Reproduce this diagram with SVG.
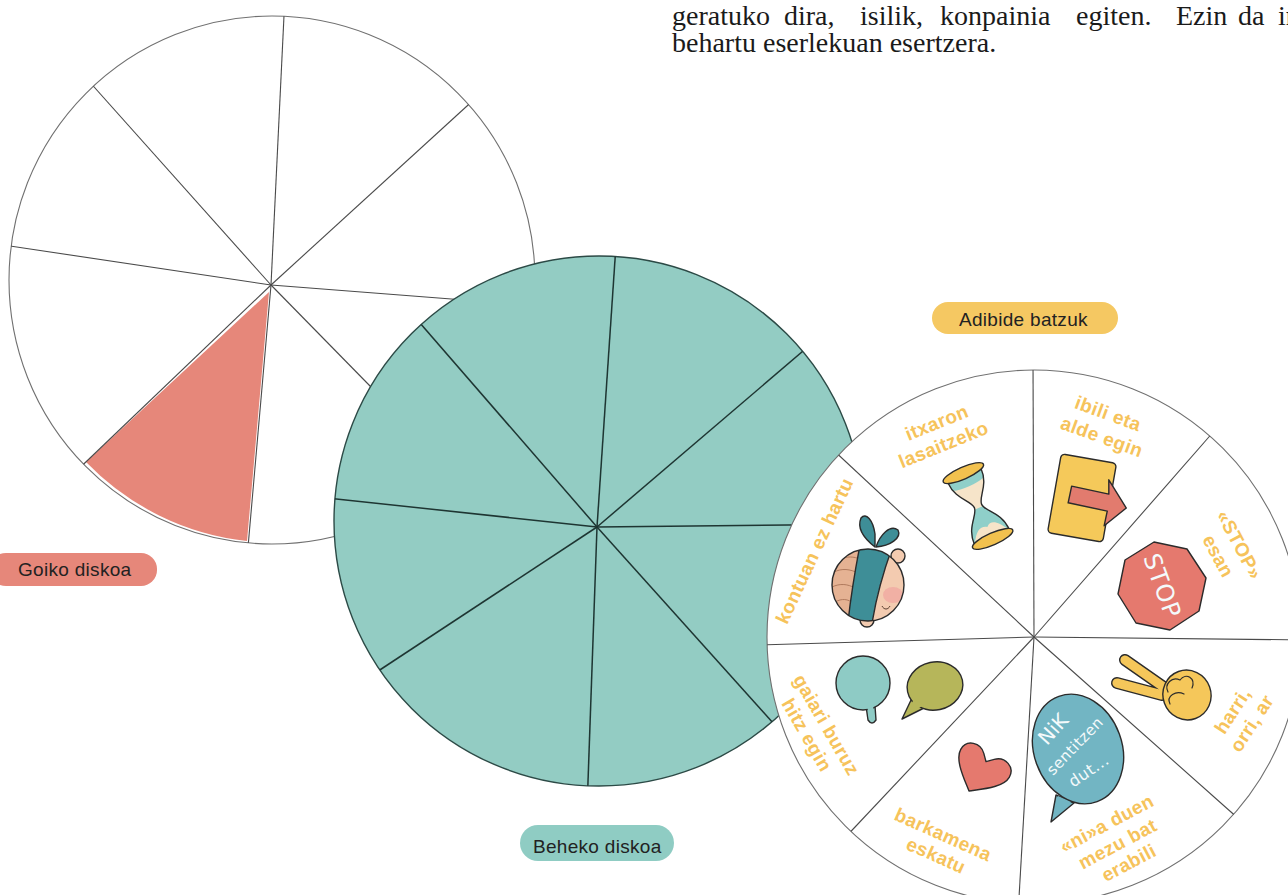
<svg xmlns="http://www.w3.org/2000/svg" width="1288" height="895" viewBox="0 0 1288 895">
  <style>
    .body { font-family: "Liberation Serif", "Times New Roman", serif; font-size: 28px; fill: #1a1a1a; }
    .pill-text { font-family: "Liberation Sans", Arial, sans-serif; font-size: 19px; fill: #222; letter-spacing: 0.3px; }
    .lbl { font-family: "Liberation Sans", Arial, sans-serif; font-weight: bold; font-size: 19px; fill: #F6C35B; text-anchor: middle; letter-spacing: 0.4px; }
    .rim-light { fill: #fff; stroke: #707070; stroke-width: 1.1; }
    .spoke-light { stroke: #4a4a4a; stroke-width: 1.1; fill: none; }
    .rim-teal { fill: #93CCC3; stroke: #2c4a46; stroke-width: 1.4; }
    .spoke-teal { stroke: #1e3532; stroke-width: 1.5; fill: none; }
    .ink { stroke: #2b2b2b; stroke-width: 1.4; stroke-linejoin: round; stroke-linecap: round; }
    .hand { font-family: "DejaVu Sans", "Liberation Sans", sans-serif; fill: #F4FAFB; text-anchor: middle; }
  </style>
  <defs>
    <clipPath id="clip-top"><ellipse cx="272" cy="280" rx="263" ry="264"/></clipPath>
    <clipPath id="clip-teal"><circle cx="599" cy="521" r="265"/></clipPath>
    <clipPath id="clip-examples"><circle cx="1034" cy="637" r="267"/></clipPath>
    <clipPath id="clip-head"><circle cx="868" cy="585" r="36"/></clipPath>
  </defs>

  <!-- running text at the top of the page -->
  <g id="page-text">
    <text class="body" y="25"><tspan x="672">geratuko</tspan><tspan x="784">dira,</tspan><tspan x="860">isilik,</tspan><tspan x="940">konpainia</tspan><tspan x="1076">egiten.</tspan><tspan x="1176">Ezin</tspan><tspan x="1238">da</tspan><tspan x="1278">inor</tspan></text>
    <text class="body" x="672" y="52">behartu eserlekuan esertzera.</text>
  </g>

  <!-- upper disk: white, eight sectors, one coloured -->
  <g id="top-disk">
    <ellipse class="rim-light" cx="272" cy="280" rx="263" ry="264"/>
    <path d="M269,292 L86,462 A263,264 0 0 0 247,541 Z" fill="#E6877A"/>
    <g class="spoke-light" clip-path="url(#clip-top)">
      <line x1="271" y1="285" x2="285" y2="-5"/>
      <line x1="271" y1="285" x2="490" y2="85"/>
      <line x1="271" y1="285" x2="490" y2="302"/>
      <line x1="271" y1="285" x2="420" y2="437"/>
      <line x1="271" y1="285" x2="246" y2="570"/>
      <line x1="271" y1="285" x2="66" y2="481"/>
      <line x1="271" y1="285" x2="-10" y2="243"/>
      <line x1="271" y1="285" x2="70" y2="60"/>
    </g>
  </g>

  <!-- lower disk: teal, eight sectors -->
  <g id="bottom-disk">
    <circle class="rim-teal" cx="599" cy="521" r="265"/>
    <g class="spoke-teal" clip-path="url(#clip-teal)">
      <line x1="597" y1="527" x2="617" y2="230"/>
      <line x1="597" y1="527" x2="830" y2="328"/>
      <line x1="597" y1="527" x2="880" y2="524"/>
      <line x1="597" y1="527" x2="800" y2="753"/>
      <line x1="597" y1="527" x2="587" y2="810"/>
      <line x1="597" y1="527" x2="360" y2="683"/>
      <line x1="597" y1="527" x2="300" y2="495"/>
      <line x1="597" y1="527" x2="400" y2="300"/>
    </g>
  </g>

  <!-- example disk: white, eight illustrated sectors -->
  <g id="examples-disk">
    <circle class="rim-light" cx="1034" cy="637" r="267"/>
    <g class="spoke-light" clip-path="url(#clip-examples)">
      <line x1="1034" y1="637" x2="1033" y2="360"/>
      <line x1="1034" y1="637" x2="1215" y2="430"/>
      <line x1="1034" y1="637" x2="1310" y2="640"/>
      <line x1="1034" y1="637" x2="1240" y2="820"/>
      <line x1="1034" y1="637" x2="1018" y2="915"/>
      <line x1="1034" y1="637" x2="840" y2="843"/>
      <line x1="1034" y1="637" x2="760" y2="645"/>
      <line x1="1034" y1="637" x2="830" y2="447"/>
    </g>

    <!-- blindfolded head -->
    <g id="icon-head">
      <circle class="ink" cx="898" cy="556" r="7" fill="#F3CBB0"/>
      <circle class="ink" cx="867" cy="620" r="7" fill="#F3CBB0"/>
      <circle cx="868" cy="585" r="36" fill="#F3CBB0"/>
      <g clip-path="url(#clip-head)">
        <path d="M862,540 C842,550 828,575 830,600 C834,615 845,622 856,625 Z" fill="#E5B293"/>
        <g fill="none" stroke="#B07A5E" stroke-width="1" stroke-linecap="round">
          <path d="M834,572 C842,568 850,569 858,573"/>
          <path d="M832,587 C840,583 848,584 855,588"/>
          <path d="M835,602 C842,598 848,599 853,603"/>
          <path d="M843,558 C850,556 856,557 862,560"/>
        </g>
        <ellipse cx="893" cy="595" rx="10" ry="8" fill="#EFA4A0" opacity="0.7"/>
        <path class="ink" d="M861,540 C872,542 882,544 892,548 C884,570 876,595 871,630 C864,628 856,626 848,622 C851,595 856,565 861,540 Z" fill="#3E8E97"/>
      </g>
      <path d="M882,606 C884,610 888,610 890,606" fill="none" stroke="#5a4030" stroke-width="1"/>
      <circle class="ink" cx="868" cy="585" r="36" fill="none"/>
      <path class="ink" d="M875,547 C866,540 856,530 861,518 C866,512 873,520 875,534 Z" fill="#3E8E97"/>
      <path class="ink" d="M876,547 C880,535 890,524 898,530 C902,538 890,546 876,547 Z" fill="#3E8E97"/>
    </g>

    <!-- hourglass -->
    <g id="icon-hourglass" transform="translate(978,506) rotate(-24)">
      <path d="M-18,-33 C-18,-15 -4,-8 -4,0 C-4,8 -19,15 -19,34 L19,34 C19,15 4,8 4,0 C4,-8 18,-15 18,-33 Z" fill="#F6E4C9"/>
      <path d="M-18,-33 L18,-33 L17,-24 C8,-21 -8,-21 -17,-24 Z" fill="#8FCFC9"/>
      <path d="M-4,2 C-8,10 -19,16 -19,34 L19,34 C19,16 8,10 4,2 Z" fill="#8FCFC9"/>
      <path d="M-18,33 C-12,22 -6,19 0,23 C6,17 12,23 18,33 Z" fill="#F6E4C9"/>
      <path class="ink" d="M-18,-33 C-18,-15 -4,-8 -4,0 C-4,8 -19,15 -19,34 M19,34 C19,15 4,8 4,0 C4,-8 18,-15 18,-33" fill="none"/>
      <ellipse class="ink" cx="0" cy="-36" rx="22" ry="6" fill="#F2C14E"/>
      <ellipse class="ink" cx="0" cy="36" rx="22" ry="6" fill="#F2C14E"/>
    </g>

    <!-- door with arrow -->
    <g id="icon-door">
      <rect class="ink" x="-28" y="-40" width="56" height="80" rx="4" fill="#F5C95A" transform="translate(1082,498) rotate(10)"/>
      <path class="ink" d="M0,-8 L38,-8 L35,-22 L58,2 L40,24 L40,9 L0,9 Z" fill="#E27B6E" transform="translate(1070,494) rotate(12)"/>
    </g>

    <!-- stop sign -->
    <g id="icon-stop">
      <polygon class="ink" points="1199,611 1170,630 1136,623 1118,594 1125,560 1154,542 1187,549 1206,578" fill="#E5796E"/>
      <text class="hand" font-size="24" letter-spacing="1" transform="translate(1162,586) rotate(70)" y="8">STOP</text>
    </g>

    <!-- two speech bubbles -->
    <g id="icon-bubbles">
      <path class="ink" d="M866,706 L868,720 Q872,726 876,720 L875,706 Z" fill="#8ECBC5"/>
      <circle class="ink" cx="863" cy="683" r="27" fill="#8ECBC5"/>
      <path d="M867,704 L869,718 Q872,722 874,718 L873,704 Z" fill="#8ECBC5"/>
      <path class="ink" d="M912,698 L902,719 L926,707 Z" fill="#B6B65A"/>
      <ellipse class="ink" cx="935" cy="686" rx="28" ry="24" transform="rotate(-12 935 686)" fill="#B6B65A"/>
      <path d="M914,699 L905,716 L924,705 Z" fill="#B6B65A"/>
    </g>

    <!-- heart -->
    <g id="icon-heart" transform="translate(980,772) rotate(30)">
      <path class="ink" d="M0,22 C-10,14 -28,2 -28,-10 C-28,-22 -14,-26 -6,-18 C-3,-15 0,-12 0,-12 C0,-12 3,-15 6,-18 C14,-26 28,-22 28,-10 C28,2 10,14 0,22 Z" fill="#E5796E"/>
    </g>

    <!-- "I" message bubble -->
    <g id="icon-message">
      <path class="ink" d="M1056,795 L1051,822 L1074,803 Z" fill="#72B5C3"/>
      <ellipse class="ink" cx="1078" cy="749" rx="44" ry="56" transform="rotate(-20 1078 749)" fill="#72B5C3"/>
      <path d="M1058,796 L1054,817 L1071,802 Z" fill="#72B5C3"/>
      <text class="hand" font-size="20" transform="translate(1053,729) rotate(-48)" y="7">NiK</text>
      <text class="hand" font-size="15" letter-spacing="0.5" transform="translate(1075,746) rotate(-46)" y="5">sentitzen</text>
      <text class="hand" font-size="16" letter-spacing="0.5" transform="translate(1089,771) rotate(-34)" y="5">dut...</text>
    </g>

    <!-- peace-sign hand -->
    <g id="icon-hand" stroke-linecap="round" fill="none">
      <path d="M1125,660 L1165,688 M1117,683 L1162,695" stroke="#2b2b2b" stroke-width="12"/>
      <path d="M1125,660 L1165,688 M1117,683 L1162,695" stroke="#F5C75A" stroke-width="9.2"/>
      <ellipse class="ink" cx="1187" cy="695" rx="24" ry="25" transform="rotate(-20 1187 695)" fill="#F5C75A"/>
      <path d="M1168,692 C1164,684 1172,676 1180,680 M1170,704 C1166,696 1176,690 1184,694 M1180,680 C1186,672 1196,678 1192,688" stroke="#2b2b2b" stroke-width="1.2"/>
    </g>

    <!-- sector captions -->
    <g id="captions">
      <text class="lbl" transform="translate(937,423) rotate(-22)"><tspan x="0" y="6">itxaron</tspan><tspan x="-2" y="29">lasaitzeko</tspan></text>
      <text class="lbl" transform="translate(1108,414) rotate(20)"><tspan x="0" y="6">ibili eta</tspan><tspan x="2" y="30">alde egin</tspan></text>
      <text class="lbl" transform="translate(1239,545) rotate(62)"><tspan x="0" y="6">«STOP»</tspan><tspan x="0" y="30">esan</tspan></text>
      <text class="lbl" transform="translate(815,551) rotate(-65)"><tspan x="0" y="6">kontuan ez hartu</tspan></text>
      <text class="lbl" transform="translate(826,725) rotate(60)"><tspan x="0" y="6">gaiari buruz</tspan><tspan x="-1" y="28">hitz egin</tspan></text>
      <text class="lbl" transform="translate(943,835) rotate(24)"><tspan x="0" y="6">barkamena</tspan><tspan x="2" y="28">eskatu</tspan></text>
      <text class="lbl" transform="translate(1107,824) rotate(-28)"><tspan x="0" y="6">«ni»a duen</tspan><tspan x="0" y="29">mezu bat</tspan><tspan x="1" y="51">erabili</tspan></text>
      <text class="lbl" transform="translate(1233,711) rotate(-57)"><tspan x="0" y="6">harri,</tspan><tspan x="0" y="29">orri, ar</tspan></text>
    </g>
  </g>

  <!-- painted name tags -->
  <g id="label-goiko">
    <rect x="-10" y="553" width="167" height="33" rx="16" fill="#E6877A"/>
    <text class="pill-text" x="18" y="576">Goiko diskoa</text>
  </g>
  <g id="label-beheko">
    <rect x="520" y="825" width="154" height="36" rx="18" fill="#8FCCC3"/>
    <text class="pill-text" x="533" y="853">Beheko diskoa</text>
  </g>
  <g id="label-adibide">
    <rect x="932" y="302" width="186" height="32" rx="16" fill="#F5C862"/>
    <text class="pill-text" x="959" y="326">Adibide batzuk</text>
  </g>
</svg>
